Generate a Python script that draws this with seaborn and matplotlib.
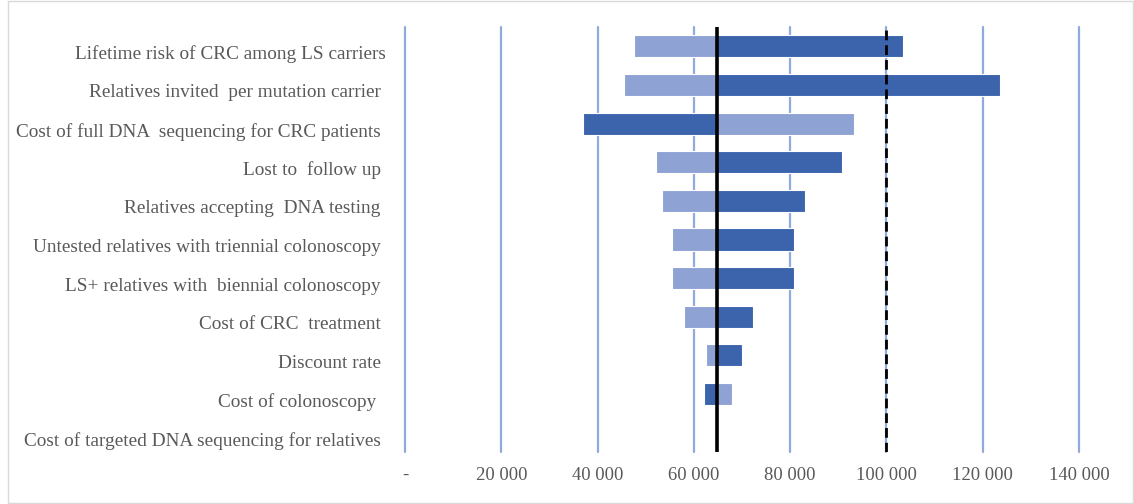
import numpy as np
import pandas as pd
import matplotlib
matplotlib.use('Agg')
import matplotlib.pyplot as plt
import matplotlib.transforms as mtransforms
import seaborn as sns
from matplotlib.patches import Rectangle

# tornado data: ICER when parameter is set to its low / high input value
parameters = ['Lifetime risk of CRC among LS carriers',
              'Relatives invited  per mutation carrier ',
              'Cost of full DNA  sequencing for CRC patients ',
              'Lost to  follow up ',
              'Relatives accepting  DNA testing ',
              'Untested relatives with triennial colonoscopy ',
              'LS+ relatives with  biennial colonoscopy ',
              'Cost of CRC  treatment ',
              'Discount rate ',
              'Cost of colonoscopy  ',
              'Cost of targeted DNA sequencing for relatives ']
low_input = [47560, 45540, 93250, 52080, 53330, 55420, 55480, 57980, 62620, 67920, 64900]
high_input = [103540, 123540, 36960, 90690, 83040, 80830, 80830, 72210, 69920, 62210, 64900]
base_icer = 64900
threshold = 100000
x_ticks = [0, 20000, 40000, 60000, 80000, 100000, 120000, 140000]
x_labels = ['-', '20 000', '40 000', '60 000', '80 000', '100 000', '120 000', '140 000']

dark = '#3B64AD'
light = '#8FA2D4'
grid_col = '#8FAADC'
text_col = '#595959'

df = pd.DataFrame({
    'parameter': parameters * 2,
    'scenario': ['low'] * len(parameters) + ['high'] * len(parameters),
    'icer': low_input + high_input,
})
# bars start at the base case, so plot the difference from it
df['delta'] = df['icer'] - base_icer

sns.set_theme(style='white')
plt.rcParams['font.family'] = ['Liberation Serif', 'DejaVu Serif']

fig = plt.figure(figsize=(11.34, 5.04), dpi=100)
ax = fig.add_axes([405 / 1134, 1 - 452 / 504, (1079 - 405) / 1134, (452 - 27) / 504])

for t in x_ticks:
    ax.axvline(t - base_icer, color=grid_col, lw=1.6, zorder=0, clip_on=False)

sns.barplot(data=df, y='parameter', x='delta', hue='scenario', order=parameters,
            palette={'low': light, 'high': dark}, dodge=False, width=0.57,
            saturation=1, edgecolor='white', linewidth=0.8, legend=False,
            ax=ax, zorder=2)

ax.axvline(0, color='black', lw=2.6, zorder=3)
ax.axvline(threshold - base_icer, color='black', lw=2.0, ls=(0, (3.5, 1.8)), zorder=3)

ax.set_xlim(x_ticks[0] - base_icer, x_ticks[-1] - base_icer)
ax.set_ylim(len(parameters) - 0.5, -0.5)
ax.set_xticks([t - base_icer for t in x_ticks])
ax.set_xticklabels(x_labels)
ax.set_xlabel('')
ax.set_ylabel('')
ax.tick_params(axis='x', length=0, pad=11, labelsize=13.4, labelcolor=text_col)
ax.tick_params(axis='y', length=0, pad=14, labelsize=13.9, labelcolor=text_col)
sns.despine(ax=ax, left=True, bottom=True)

# Excel-like: category labels sit slightly below the bar centre
shift = mtransforms.ScaledTranslation(0, -6 / 100, fig.dpi_scale_trans)
for lab in ax.get_yticklabels():
    lab.set_transform(lab.get_transform() + shift)

fig.patches.append(Rectangle((8 / 1134, 1 / 504), 1 - 9 / 1134, 1 - 2 / 504,
                             transform=fig.transFigure, fill=False,
                             edgecolor='#D9D9D9', lw=1.0))

fig.savefig('out.png', dpi=100, facecolor='white')
